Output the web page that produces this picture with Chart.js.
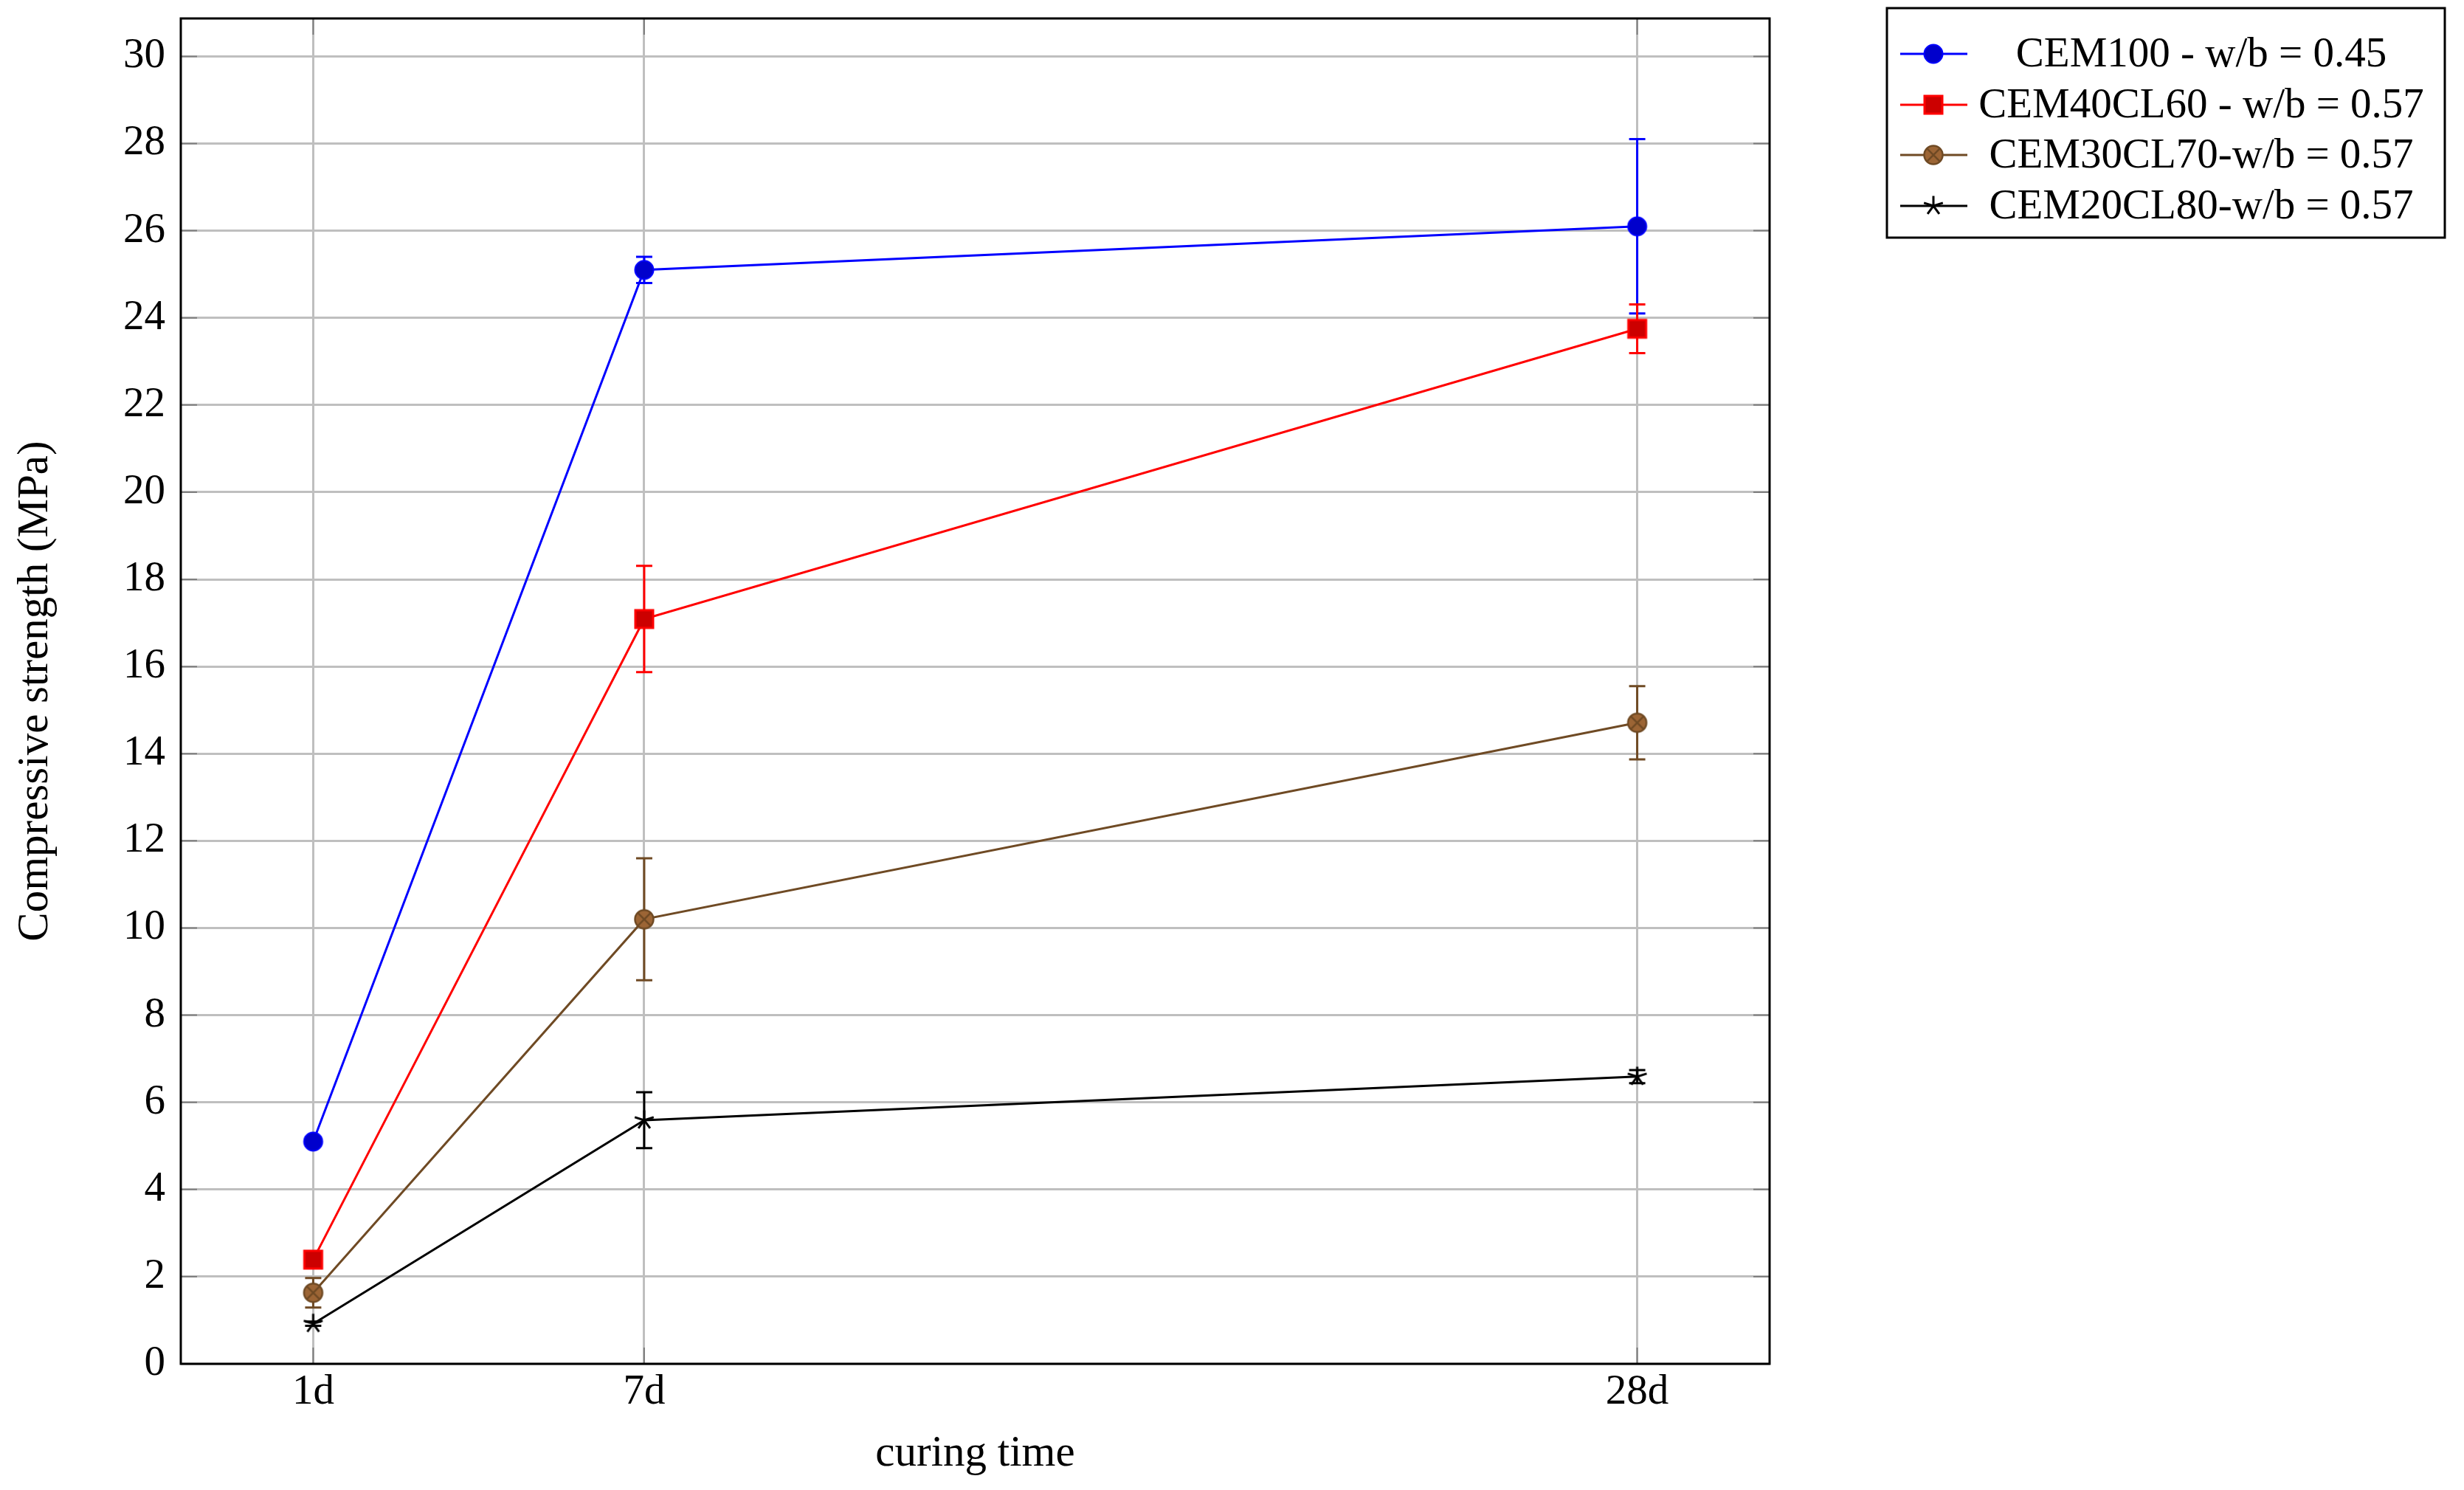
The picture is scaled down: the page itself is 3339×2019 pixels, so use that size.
<!DOCTYPE html>
<html>
<head>
<meta charset="utf-8">
<style>
html, body { margin: 0; padding: 0; background: #ffffff; }
#wrap { width: 3339px; height: 2019px; }
canvas { display: block; }
</style>
<script src="https://cdn.jsdelivr.net/npm/chart.js@4.4.1/dist/chart.umd.min.js"></script>
</head>
<body>
<div id="wrap"><canvas id="c" width="3339" height="2019"></canvas></div>
<script>
// ---------- data ----------
const categories = ['1d', '7d', '28d'];
const xPositions = [1, 2, 5];
const seriesNames = [
  'CEM100 - w/b = 0.45',
  'CEM40CL60 - w/b = 0.57',
  'CEM30CL70-w/b = 0.57',
  'CEM20CL80-w/b = 0.57'
];
const cem100 = [5.1, 25.1, 26.1];
const cem100Err = [0.1, 0.3, 2.0];
const cem40cl60 = [2.39, 17.09, 23.75];
const cem40cl60Err = [0.1, 1.22, 0.56];
const cem30cl70 = [1.63, 10.2, 14.71];
const cem30cl70Err = [0.34, 1.4, 0.84];
const cem20cl80 = [0.92, 5.59, 6.59];
const cem20cl80Err = [0.05, 0.64, 0.15];
const yTicks = [0, 2, 4, 6, 8, 10, 12, 14, 16, 18, 20, 22, 24, 26, 28, 30];
const xTitle = 'curing time';
const yTitle = 'Compressive strength (MPa)';

// ---------- styling ----------
const FONT = "'Liberation Serif', 'Times New Roman', serif";
const FS = 57;
const TFS = 59;
Chart.defaults.font.family = FONT;
Chart.defaults.font.size = FS;
Chart.defaults.color = '#000000';

function makeMarker(kind, fill, stroke) {
  const s = 36, m = s / 2;
  const c = document.createElement('canvas');
  c.width = s; c.height = s;
  const g = c.getContext('2d');
  if (kind === 'circle') {
    g.beginPath(); g.arc(m, m, 12.5, 0, Math.PI * 2);
    g.fillStyle = fill; g.fill();
    g.lineWidth = 2; g.strokeStyle = stroke; g.stroke();
  } else if (kind === 'square') {
    g.fillStyle = fill; g.fillRect(m - 12, m - 12, 24, 24);
    g.lineWidth = 3; g.strokeStyle = stroke; g.strokeRect(m - 12, m - 12, 24, 24);
  } else if (kind === 'otimes') {
    g.beginPath(); g.arc(m, m, 12.5, 0, Math.PI * 2);
    g.fillStyle = fill; g.fill();
    g.lineWidth = 2.5; g.strokeStyle = stroke; g.stroke();
    const d = 12.5 * Math.SQRT1_2;
    g.beginPath();
    g.moveTo(m - d, m - d); g.lineTo(m + d, m + d);
    g.moveTo(m + d, m - d); g.lineTo(m - d, m + d);
    g.lineWidth = 2.5; g.stroke();
  } else if (kind === 'star') {
    g.beginPath();
    for (let k = 0; k < 5; k++) {
      const a = -Math.PI / 2 + k * 2 * Math.PI / 5;
      g.moveTo(m, m);
      g.lineTo(m + 13.5 * Math.cos(a), m + 13.5 * Math.sin(a));
    }
    g.lineWidth = 3; g.strokeStyle = stroke; g.lineCap = 'butt'; g.stroke();
  }
  return c;
}

const blueMarker = makeMarker('circle', '#0000cc', '#0000ff');
const redMarker = makeMarker('square', '#cc0000', '#ff0000');
const brownMarker = makeMarker('otimes', '#9c6535', '#6f4a24');
const blackMarker = makeMarker('star', '#000000', '#000000');

function pts(vals) { return vals.map((v, i) => ({ x: xPositions[i], y: v })); }

function ds(label, vals, errs, color, marker) {
  return {
    label: label,
    data: pts(vals),
    errors: errs,
    borderColor: color,
    backgroundColor: color,
    borderWidth: 3,
    pointStyle: marker,
    pointRadius: 14,
    pointHoverRadius: 14,
    fill: false,
    tension: 0,
    marker: marker
  };
}

// ---------- plugins ----------
const framePlugin = {
  id: 'frame',
  beforeDatasetsDraw(chart) {
    const { ctx, chartArea: a, scales } = chart;
    ctx.save();
    // inner ticks
    ctx.strokeStyle = '#7f7f7f';
    ctx.lineWidth = 2;
    const tl = 22;
    scales.y.ticks.forEach(t => {
      const y = scales.y.getPixelForValue(t.value);
      ctx.beginPath();
      ctx.moveTo(a.left, y); ctx.lineTo(a.left + tl, y);
      ctx.moveTo(a.right, y); ctx.lineTo(a.right - tl, y);
      ctx.stroke();
    });
    scales.x.ticks.forEach(t => {
      const x = scales.x.getPixelForValue(t.value);
      ctx.beginPath();
      ctx.moveTo(x, a.top); ctx.lineTo(x, a.top + tl);
      ctx.moveTo(x, a.bottom); ctx.lineTo(x, a.bottom - tl);
      ctx.stroke();
    });
    // frame
    ctx.strokeStyle = '#000000';
    ctx.lineWidth = 3;
    ctx.strokeRect(a.left, a.top, a.right - a.left, a.bottom - a.top);
    // error bars
    chart.data.datasets.forEach((d, di) => {
      const meta = chart.getDatasetMeta(di);
      if (meta.hidden) return;
      ctx.strokeStyle = d.borderColor;
      ctx.lineWidth = 3;
      d.data.forEach((p, i) => {
        const e = d.errors[i];
        const x = scales.x.getPixelForValue(p.x);
        const y1 = scales.y.getPixelForValue(p.y + e);
        const y2 = scales.y.getPixelForValue(p.y - e);
        ctx.beginPath();
        ctx.moveTo(x, y1); ctx.lineTo(x, y2);
        ctx.moveTo(x - 11, y1); ctx.lineTo(x + 11, y1);
        ctx.moveTo(x - 11, y2); ctx.lineTo(x + 11, y2);
        ctx.stroke();
      });
    });
    ctx.restore();
  }
};

const legendPlugin = {
  id: 'boxLegend',
  afterDraw(chart) {
    const { ctx } = chart;
    const box = { left: 2557, top: 11, right: 3313, bottom: 322 };
    const rowTop = 73, rowStep = 68.5;
    ctx.save();
    ctx.fillStyle = '#ffffff';
    ctx.fillRect(box.left, box.top, box.right - box.left, box.bottom - box.top);
    ctx.strokeStyle = '#000000';
    ctx.lineWidth = 3;
    ctx.strokeRect(box.left, box.top, box.right - box.left, box.bottom - box.top);
    ctx.font = FS + 'px ' + FONT;
    ctx.textAlign = 'center';
    ctx.textBaseline = 'middle';
    chart.data.datasets.forEach((d, i) => {
      const y = Math.round(rowTop + i * rowStep);
      ctx.strokeStyle = d.borderColor;
      ctx.lineWidth = 3;
      ctx.beginPath(); ctx.moveTo(2575, y); ctx.lineTo(2666, y); ctx.stroke();
      const m = d.marker;
      ctx.drawImage(m, 2620 - m.width / 2, y - m.height / 2);
      ctx.fillStyle = '#000000';
      ctx.fillText(d.label, 2983, y + 2);
    });
    ctx.restore();
  }
};

// ---------- chart ----------
new Chart(document.getElementById('c'), {
  type: 'line',
  data: {
    datasets: [
      ds(seriesNames[0], cem100, cem100Err, '#0000ff', blueMarker),
      ds(seriesNames[1], cem40cl60, cem40cl60Err, '#ff0000', redMarker),
      ds(seriesNames[2], cem30cl70, cem30cl70Err, '#6f4a24', brownMarker),
      ds(seriesNames[3], cem20cl80, cem20cl80Err, '#000000', blackMarker)
    ]
  },
  options: {
    responsive: false,
    maintainAspectRatio: false,
    devicePixelRatio: 1,
    animation: false,
    layout: { padding: { left: 0, top: 25, right: 941, bottom: 0 } },
    plugins: {
      legend: { display: false },
      tooltip: { enabled: false }
    },
    scales: {
      x: {
        type: 'linear',
        min: 0.6,
        max: 5.4,
        afterFit(s) { s.height = 171; s.paddingLeft = 0; s.paddingRight = 0; },
        afterBuildTicks(s) { s.ticks = xPositions.map(v => ({ value: v })); },
        ticks: {
          padding: 5,
          font: { size: FS, family: FONT },
          color: '#000000',
          maxRotation: 0,
          autoSkip: false,
          callback: (v) => categories[xPositions.indexOf(v)]
        },
        grid: { color: '#bfbfbf', lineWidth: 3, drawTicks: false },
        border: { display: false },
        title: {
          display: true,
          text: xTitle,
          font: { size: TFS, family: FONT },
          color: '#000000',
          padding: { top: 0, bottom: 13 }
        }
      },
      y: {
        type: 'linear',
        min: 0,
        max: 30.87,
        afterFit(s) { s.width = 245; s.paddingTop = 0; s.paddingBottom = 0; },
        afterBuildTicks(s) { s.ticks = yTicks.map(v => ({ value: v })); },
        ticks: {
          padding: 21,
          font: { size: FS, family: FONT },
          color: '#000000',
          autoSkip: false,
          callback: (v) => String(v)
        },
        grid: { color: '#bfbfbf', lineWidth: 3, drawTicks: false },
        border: { display: false },
        title: {
          display: true,
          text: yTitle,
          font: { size: TFS, family: FONT },
          color: '#000000',
          padding: { top: 13, bottom: 0 }
        }
      }
    }
  },
  plugins: [framePlugin, legendPlugin]
});
</script>
</body>
</html>
